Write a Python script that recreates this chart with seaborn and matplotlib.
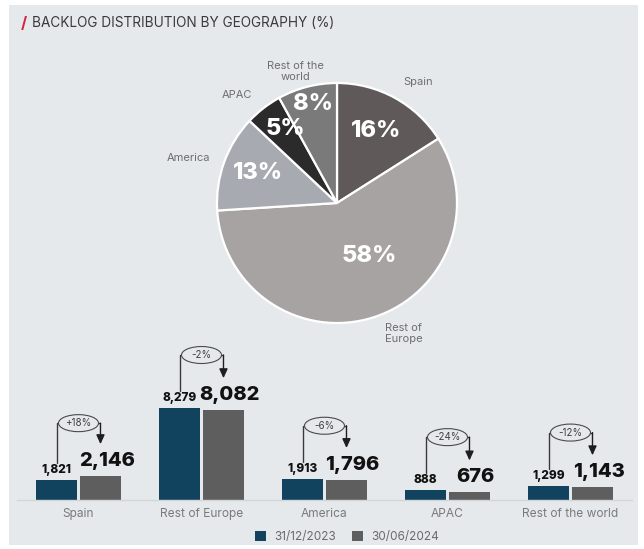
import numpy as np
import pandas as pd
import matplotlib
matplotlib.use("Agg")
import matplotlib.pyplot as plt
from matplotlib.patches import Rectangle, Ellipse
import seaborn as sns

# ---- data -------------------------------------------------------------
pie_regions = ["Spain", "Rest of Europe", "America", "APAC", "Rest of the world"]
pie_labels = ["Spain", "Rest of\nEurope", "America", "APAC", "Rest of the\nworld"]
pie_shares = [16, 58, 13, 5, 8]

bar_regions = ["Spain", "Rest of Europe", "America", "APAC", "Rest of the world"]
periods = ["31/12/2023", "30/06/2024"]
backlog_2023 = [1821, 8279, 1913, 888, 1299]
backlog_2024 = [2146, 8082, 1796, 676, 1143]
change_labels = ["+18%", "-2%", "-6%", "-24%", "-12%"]

# ---- style ------------------------------------------------------------
BG = "#e6e9ec"
NAVY = "#11435f"
GREY = "#5e5e5e"
PIE_COLORS = ["#5f5a59", "#a7a3a2", "#a7abb1", "#2b2b2b", "#7a7a7a"]
TXT = "#6e6e6e"

sns.set_style("white")
plt.rcParams["font.family"] = ["Inter", "DejaVu Sans"]

W, H = 644, 549
fig = plt.figure(figsize=(W / 100, H / 100), dpi=100, facecolor="white")


def rect(x0, y0, x1, y1):
    return [x0 / W, 1 - y1 / H, (x1 - x0) / W, (y1 - y0) / H]


fig.patches.append(Rectangle((9 / W, 1 - 545 / H), 629 / W, 540 / H,
                             transform=fig.transFigure, facecolor=BG,
                             edgecolor="none", zorder=-10))

# title with red slash
fig.text(21 / W, 1 - 23 / H, "/", color="#d3263d", fontsize=11.5,
         fontweight="bold", va="center", ha="left")
fig.text(32 / W, 1 - 23 / H, "BACKLOG DISTRIBUTION BY GEOGRAPHY (%)",
         color="#3a3a3a", fontsize=9.8, va="center", ha="left")

# ---- pie --------------------------------------------------------------
ax_pie = fig.add_axes(rect(337 - 150, 203 - 150, 337 + 150, 203 + 150))
ax_pie.set_facecolor("none")
wedges, _ = ax_pie.pie(pie_shares, colors=PIE_COLORS, startangle=90,
                       counterclock=False,
                       wedgeprops=dict(edgecolor="white", linewidth=1.6))
ax_pie.set_xlim(-1.25, 1.25)
ax_pie.set_ylim(-1.25, 1.25)
ax_pie.set_aspect("equal")
ax_pie.axis("off")

pct_r = [0.68, 0.52, 0.70, 0.75, 0.85]
pct_nudge = [0, 13, -1, -3, -1]
out_r = [1.21, 1.22, 1.29, 1.23, 1.15]
out_nudge = [-5, 9, 3, 5, 3]
for w, share, lab, pr, pn, orr, on in zip(wedges, pie_shares, pie_labels,
                                          pct_r, pct_nudge, out_r, out_nudge):
    mid = (w.theta1 + w.theta2) / 2
    a = np.deg2rad(mid + pn)
    ax_pie.text(pr * np.cos(a), pr * np.sin(a), f"{share}%", color="white",
                fontsize=17, fontweight="heavy", ha="center", va="center")
    b = np.deg2rad(mid + on)
    ax_pie.text(orr * np.cos(b), orr * np.sin(b), lab, color=TXT,
                fontsize=8, ha="center", va="center", linespacing=1.15)

# ---- bars -------------------------------------------------------------
ax_bar = fig.add_axes(rect(17, 335, 632, 500))
ax_bar.set_facecolor("none")
df = pd.DataFrame({
    "region": bar_regions * 2,
    "backlog": backlog_2023 + backlog_2024,
    "period": [periods[0]] * len(bar_regions) + [periods[1]] * len(bar_regions),
})
sns.barplot(data=df, x="region", y="backlog", hue="period",
            palette=[NAVY, GREY], saturation=1, width=0.715, gap=0.07,
            linewidth=0, ax=ax_bar)

YMAX = 14850
ax_bar.set_ylim(0, YMAX)
ax_bar.set_xlim(-0.5, len(bar_regions) - 0.5)
ax_bar.set_xlabel("")
ax_bar.set_ylabel("")
ax_bar.set_yticks([])
for s in ["top", "right", "left"]:
    ax_bar.spines[s].set_visible(False)
ax_bar.spines["bottom"].set_color("#d3d6d9")
ax_bar.spines["bottom"].set_linewidth(1.0)
ax_bar.tick_params(axis="x", length=0, pad=6, labelsize=8.6, labelcolor="#7a7a7a")

# pixel -> data conversion in y
u = YMAX / 165.0

bars_old = ax_bar.containers[0]
bars_new = ax_bar.containers[1]
for i, (bo, bn, v0, v1, chg) in enumerate(zip(bars_old, bars_new, backlog_2023,
                                              backlog_2024, change_labels)):
    xo = bo.get_x() + bo.get_width() / 2
    xn = bn.get_x() + bn.get_width() / 2
    ax_bar.text(xo, v0 + 7 * u, f"{v0:,}", ha="center", va="baseline",
                fontsize=8.5, fontweight="heavy", color="#111111")
    ax_bar.text(xn + 0.05, v1 + 10 * u, f"{v1:,}", ha="center", va="baseline",
                fontsize=14.5, fontweight="heavy", color="#111111")

    top = max(v0, v1)
    y_br = top + 53 * u
    y_left = v0 + 17 * u
    y_tip = v1 + 32 * u
    cx = (xo + xn) / 2
    ax_bar.plot([xo, xo, xn], [y_left, y_br, y_br], color="#3a3a3a",
                lw=1.0, solid_joinstyle="round", clip_on=False)
    ax_bar.annotate("", xy=(xn, y_tip), xytext=(xn, y_br),
                    arrowprops=dict(arrowstyle="-|>,head_length=0.55,head_width=0.25",
                                    color="#1e1e1e", lw=1.0,
                                    shrinkA=0, shrinkB=0),
                    annotation_clip=False)
    ax_bar.add_patch(Ellipse((cx, y_br), 40 / 123, 17 * u, facecolor=BG,
                             edgecolor="#4a4a4a", lw=0.8, clip_on=False,
                             zorder=5))
    ax_bar.text(cx, y_br, chg, ha="center", va="center", fontsize=7,
                color="#3f3f3f", zorder=6)

sns.move_legend(ax_bar, "center", bbox_to_anchor=(347 / W, 1 - 537 / H),
                bbox_transform=fig.transFigure, ncol=2, frameon=False,
                title=None, fontsize=8.5, labelcolor="#6a6a6a",
                handlelength=0.9, handleheight=0.9, handletextpad=0.7,
                columnspacing=1.4)

fig.savefig("out.png", dpi=100, facecolor="white")
